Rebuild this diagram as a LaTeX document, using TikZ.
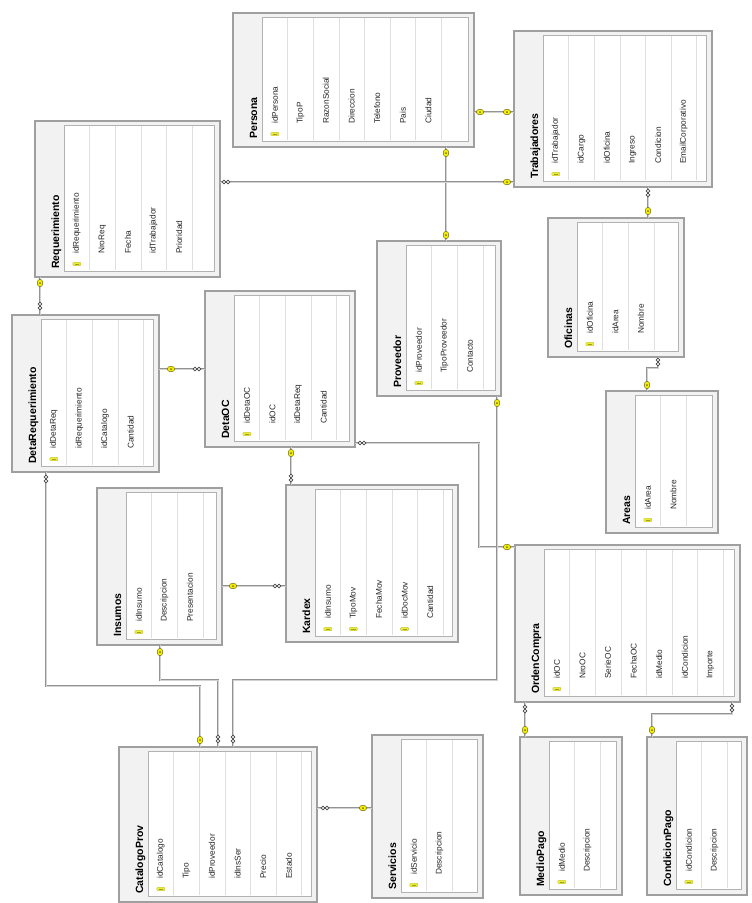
\documentclass[tikz,border=0pt]{standalone}
\usepackage{fontspec}
\setmainfont{Liberation Sans}
\usepackage{tikz}

\tikzset{
  marco/.style={draw=gray!75, line width=1.4pt, fill=gray!10, inner sep=0pt, outer sep=0pt},
  interior/.style={draw=gray!60, line width=0.7pt, fill=white},
  fila/.style={draw=gray!25, line width=0.4pt},
  titulo/.style={rotate=90, inner sep=0pt, font=\bfseries\fontsize{10.5}{12}\selectfont},
  campo/.style={rotate=90, inner sep=0pt, text=black!85, font=\fontsize{8.3}{9}\selectfont},
  rel/.style={draw=gray!85, line width=0.6pt, double=gray!35, double distance=1pt},
  pk/.pic={\filldraw[fill=yellow!55!lime!80, draw=olive!60, line width=0.3pt, rounded corners=1pt] (-4,-1.8) rectangle (4,1.8);
    \draw[olive!80, line width=0.6pt] (-2,0) -- (2.5,0);},
  llave/.pic={\filldraw[fill=yellow!80!lime, draw=olive!80!black, line width=0.5pt] (0,0) ellipse (3.8 and 2.8);
    \fill[olive!80!black] (0,0) circle (1);},
  muchos/.pic={\draw[gray!55!black, line width=0.6pt, fill=white] (-2,0) circle (1.9) (2,0) circle (1.9);}
}

\newcommand\tabla[6]{%
  \node[marco, minimum width=#4, minimum height=#5, anchor=north west] (#1) at (#2,#3) {};
  \draw[interior] (#2+29,#3+4) rectangle (#2+#4-6,#3+#5-6);
  \node[titulo, anchor=base west] at (#2+24,#3+#5-8) {#1};
  \foreach \campo/\pk [count=\i] in {#6} {
    \pgfmathsetmacro\cx{#2+29+(\i-0.5)*25.6}
    \draw[fila] ({#2+29+\i*25.6},#3+5) -- ({#2+29+\i*25.6},#3+#5-7);
    \node[campo, anchor=west] at (\cx,#3+#5-23) {\campo};
    \ifnum\pk=1 \pic at (\cx,#3+#5-13) {pk};\fi
  }
}

\begin{document}
\begin{tikzpicture}[x=1pt,y=-1pt]
\fill[white] (0,0) rectangle (752,903);
\useasboundingbox (0,0) rectangle (752,903);

\tabla{Persona}{233}{13}{241}{134}{idPersona/1,TipoP/0,RazonSocial/0,Direccion/0,Telefono/0,Pais/0,Ciudad/0}
\tabla{Trabajadores}{514}{31}{198}{156}{idTrabajador/1,idCargo/0,idOficina/0,Ingreso/0,Condicion/0,EmailCorporativo/0}
\tabla{Requerimiento}{35}{121}{185}{156}{idRequerimiento/1,NroReq/0,Fecha/0,idTrabajador/0,Prioridad/0}
\tabla{DetaRequerimiento}{12}{315}{147}{157}{idDetaReq/1,idRequerimiento/0,idCatalogo/0,Cantidad/0}
\tabla{DetaOC}{205}{291}{150}{156}{idDetaOC/1,idOC/0,idDetaReq/0,Cantidad/0}
\tabla{Proveedor}{377}{241}{124}{155}{idProveedor/1,TipoProveedor/0,Contacto/0}
\tabla{Oficinas}{548}{218}{136}{139}{idOficina/1,idArea/0,Nombre/0}
\tabla{Areas}{606}{391}{112}{142}{idArea/1,Nombre/0}
\tabla{Insumos}{97}{488}{125}{157}{idInsumo/1,Descripcion/0,Presentacion/0}
\tabla{Kardex}{286}{485}{172}{157}{idInsumo/1,TipoMov/1,FechaMov/0,idDocMov/1,Cantidad/0}
\tabla{OrdenCompra}{515}{545}{225}{157}{idOC/1,NroOC/0,SerieOC/0,FechaOC/0,idMedio/0,idCondicion/0,Importe/0}
\tabla{CatalogoProv}{119}{747}{198}{155}{idCatalogo/1,Tipo/0,idProveedor/0,idInsSer/0,Precio/0,Estado/0}
\tabla{Servicios}{372}{735}{111}{163}{idServicio/1,Descripcion/0}
\tabla{MedioPago}{520}{737}{102}{158}{idMedio/1,Descripcion/0}
\tabla{CondicionPago}{647}{737}{100}{158}{idCondicion/1,Descripcion/0}

\draw[rel] (Persona.east |- 0,112) -- (Trabajadores.west |- 0,112);
\draw[rel] (Persona.south -| 446,0) -- (Proveedor.north -| 446,0);
\draw[rel] (Requerimiento.east |- 0,182) -- (Trabajadores.west |- 0,182);
\draw[rel] (Trabajadores.south -| 648,0) -- (Oficinas.north -| 648,0);
\draw[rel] (Oficinas.south -| 658,0) -- ++(0,11) -| (Areas.north -| 647,0);
\draw[rel] (Requerimiento.south -| 40,0) -- (DetaRequerimiento.north -| 40,0);
\draw[rel] (DetaRequerimiento.east |- 0,369) -- (DetaOC.west |- 0,369);
\draw[rel] (DetaOC.south -| 291,0) -- (Kardex.north -| 291,0);
\draw[rel] (DetaOC.east |- 0,443) -| (479,547) -- (OrdenCompra.west |- 0,547);
\draw[rel] (Proveedor.south -| 497,0) |- (233,680) -- (CatalogoProv.north -| 233,0);
\draw[rel] (Insumos.east |- 0,586) -- (Kardex.west |- 0,586);
\draw[rel] (Insumos.south -| 160,0) |- (218,680) -- (CatalogoProv.north -| 218,0);
\draw[rel] (DetaRequerimiento.south -| 46,0) |- (200,686) -- (CatalogoProv.north -| 200,0);
\draw[rel] (CatalogoProv.east |- 0,808) -- (Servicios.west |- 0,808);
\draw[rel] (OrdenCompra.south -| 525,0) -- (MedioPago.north -| 525,0);
\draw[rel] (OrdenCompra.south -| 732,0) |- (652,714) -- (CondicionPago.north -| 652,0);

\pic at (480,112) {llave};
\pic at (507,112) {llave};
\pic[rotate=90] at (446,153) {llave};
\pic[rotate=90] at (446,235) {llave};
\pic at (226,182) {muchos};
\pic at (507,182) {llave};
\pic[rotate=90] at (648,193) {muchos};
\pic[rotate=90] at (648,211) {llave};
\pic[rotate=90] at (658,362) {muchos};
\pic[rotate=90] at (647,385) {llave};
\pic[rotate=90] at (40,283) {llave};
\pic[rotate=90] at (40,306) {muchos};
\pic at (171,369) {llave};
\pic at (197,369) {muchos};
\pic[rotate=90] at (291,453) {llave};
\pic[rotate=90] at (291,478) {muchos};
\pic at (362,443) {muchos};
\pic at (507,547) {llave};
\pic[rotate=90] at (497,403) {llave};
\pic[rotate=90] at (233,739) {muchos};
\pic at (233,586) {llave};
\pic at (277,586) {muchos};
\pic[rotate=90] at (160,652) {llave};
\pic[rotate=90] at (218,739) {muchos};
\pic[rotate=90] at (46,479) {muchos};
\pic[rotate=90] at (200,740) {llave};
\pic at (325,808) {muchos};
\pic at (363,808) {llave};
\pic[rotate=90] at (525,709) {muchos};
\pic[rotate=90] at (525,730) {llave};
\pic[rotate=90] at (732,708) {muchos};
\pic[rotate=90] at (652,730) {llave};
\end{tikzpicture}
\end{document}
